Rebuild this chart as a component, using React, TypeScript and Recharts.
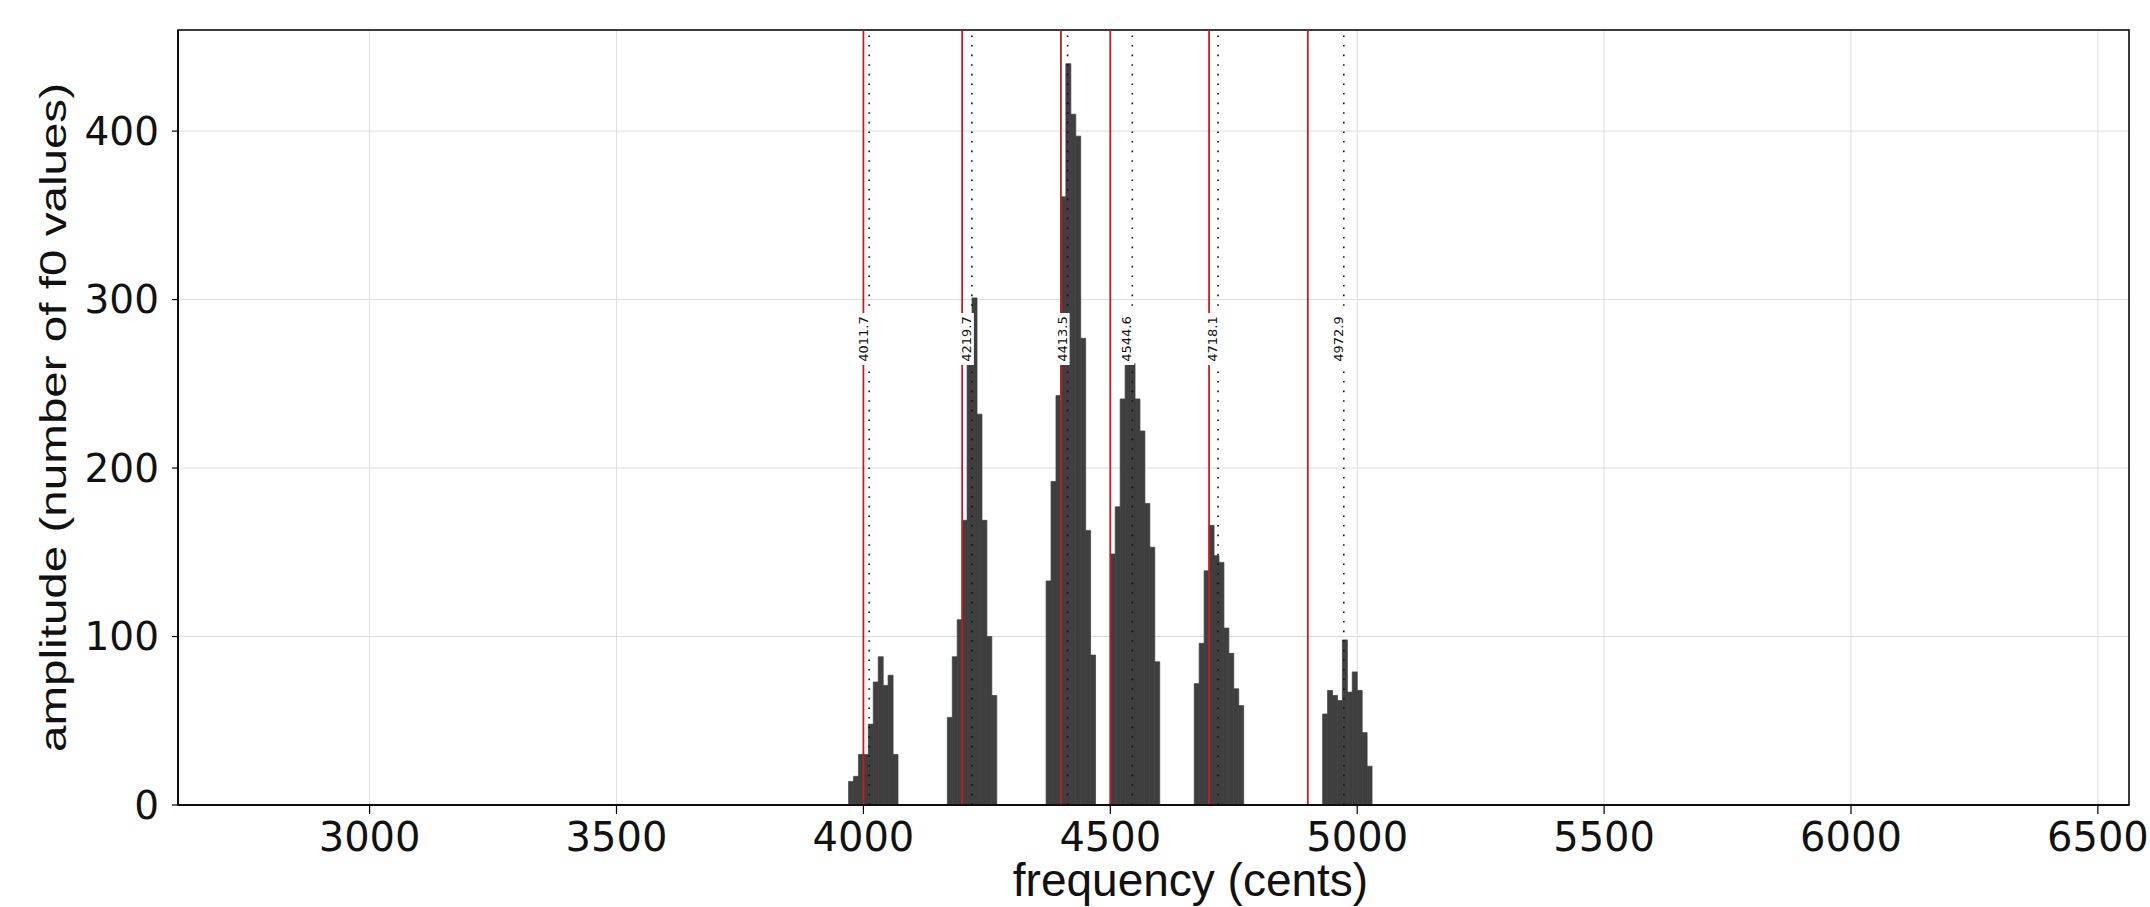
import React from 'react';
import {
  ComposedChart,
  Bar,
  XAxis,
  YAxis,
  CartesianGrid,
  ReferenceLine,
  ReferenceArea,
} from 'recharts';

// histogram bin centres (cents) and counts (number of f0 values)
const binCenters = [
  3975, 3985, 3995, 4005, 4015, 4025, 4035, 4045, 4055, 4065,
  4175, 4185, 4195, 4205, 4215, 4225, 4235, 4245, 4255, 4265,
  4375, 4385, 4395, 4405, 4415, 4425, 4435, 4445, 4455, 4465,
  4505, 4515, 4525, 4535, 4545, 4555, 4565, 4575, 4585, 4595,
  4675, 4685, 4695, 4705, 4715, 4725, 4735, 4745, 4755, 4765,
  4935, 4945, 4955, 4965, 4975, 4985, 4995, 5005, 5015, 5025,
];
const binCounts = [
  14, 17, 30, 30, 48, 73, 88, 71, 77, 30,
  52, 88, 110, 169, 262, 301, 232, 169, 100, 65,
  133, 192, 243, 361, 440, 410, 397, 277, 163, 89,
  149, 177, 241, 262, 262, 241, 222, 179, 153, 85,
  72, 96, 139, 166, 148, 144, 105, 90, 69, 59,
  54, 68, 65, 62, 98, 67, 79, 68, 43, 23,
];

const xTicks = [3000, 3500, 4000, 4500, 5000, 5500, 6000, 6500];
const yTicks = [0, 100, 200, 300, 400];
const xDomain = [2612, 6563];
const yDomain = [0, 460];

// scale degrees (red lines) and detected peaks (dotted lines)
const scaleCents = [4000, 4200, 4400, 4500, 4700, 4900];
const peakCents = [4011.7, 4219.7, 4413.5, 4544.6, 4718.1, 4972.9];
const peakLabels = ['4011.7', '4219.7', '4413.5', '4544.6', '4718.1', '4972.9'];

const xLabel = 'frequency (cents)';
const yLabel = 'amplitude (number of f0 values)';

const data = binCenters.map((c, i) => ({ cents: c, count: binCounts[i] }));

const makePeakLabel = (text: string) => (props: any) => {
  const vb = props.viewBox || {};
  const x = vb.x;
  const cy = vb.y + vb.height * 0.3987;
  const tx = x - 5.5;
  return (
    <g>
      <rect x={x - 13} y={cy - 26} width={15} height={52} fill="#ffffff" />
      <text
        x={tx}
        y={cy}
        transform={`rotate(-90, ${tx}, ${cy})`}
        textAnchor="middle"
        dominantBaseline="central"
        fontFamily="DejaVu Sans"
        fontSize={13}
        fill="#111"
      >
        {text}
      </text>
    </g>
  );
};

const YLabel = (props: any) => {
  const vb = props.viewBox || {};
  const cx = vb.x + 53;
  const cy = vb.y + vb.height / 2;
  return (
    <text
      x={cx}
      y={cy}
      transform={`rotate(-90, ${cx}, ${cy})`}
      textAnchor="middle"
      dominantBaseline="central"
      fontFamily="Liberation Sans, Arial, sans-serif"
      fontSize={37}
      textLength={669}
      lengthAdjust="spacingAndGlyphs"
      fill="#111"
    >
      {yLabel}
    </text>
  );
};

const XLabel = (props: any) => {
  const vb = props.viewBox || {};
  const cx = vb.x + vb.width / 2 + 37;
  const by = vb.y + 91;
  return (
    <text
      x={cx}
      y={by}
      textAnchor="middle"
      fontFamily="Liberation Sans, Arial, sans-serif"
      fontSize={46}
      fill="#111"
    >
      {xLabel}
    </text>
  );
};

export default function App() {
  return (
    <div style={{ position: 'absolute', left: 0, top: 0, background: '#fff' }}>
      <ComposedChart
        width={2150}
        height={907}
        data={data}
        margin={{ top: 30, right: 21, left: 0, bottom: 0 }}
        barCategoryGap={0}
        barGap={0}
      >
        <CartesianGrid stroke="#dddddd" strokeWidth={1} />
        <XAxis
          dataKey="cents"
          type="number"
          domain={xDomain}
          ticks={xTicks}
          allowDataOverflow
          height={102}
          tickSize={9}
          tickMargin={9}
          axisLine={{ stroke: '#000', strokeWidth: 1.5 }}
          tickLine={{ stroke: '#000', strokeWidth: 1.2 }}
          tick={{ fontFamily: 'DejaVu Sans', fontSize: 40, fill: '#111' }}
          label={XLabel}
        />
        <YAxis
          type="number"
          domain={yDomain}
          ticks={yTicks}
          allowDataOverflow
          width={178}
          tickSize={6}
          tickMargin={13}
          axisLine={{ stroke: '#000', strokeWidth: 1.5 }}
          tickLine={{ stroke: '#000', strokeWidth: 1.2 }}
          tick={{ fontFamily: 'DejaVu Sans', fontSize: 39, fill: '#111' }}
          label={YLabel}
        />
        <Bar
          dataKey="count"
          fill="#3f3f3f"
          stroke="#3f3f3f"
          strokeWidth={0.7}
          isAnimationActive={false}
        />
        {scaleCents.map((c) => (
          <ReferenceLine
            key={`s${c}`}
            x={c}
            stroke="#c41e24"
            strokeWidth={1.8}
            ifOverflow="visible"
          />
        ))}
        {peakCents.map((c, i) => (
          <ReferenceLine
            key={`p${c}`}
            x={c}
            stroke="#111"
            strokeWidth={1.6}
            strokeDasharray="1.6 8"
            ifOverflow="visible"
            label={makePeakLabel(peakLabels[i])}
          />
        ))}
        <ReferenceArea
          x1={xDomain[0]}
          x2={xDomain[1]}
          y1={yDomain[0]}
          y2={yDomain[1]}
          fill="none"
          stroke="#000"
          strokeWidth={1.5}
          ifOverflow="visible"
        />
      </ComposedChart>
    </div>
  );
}
